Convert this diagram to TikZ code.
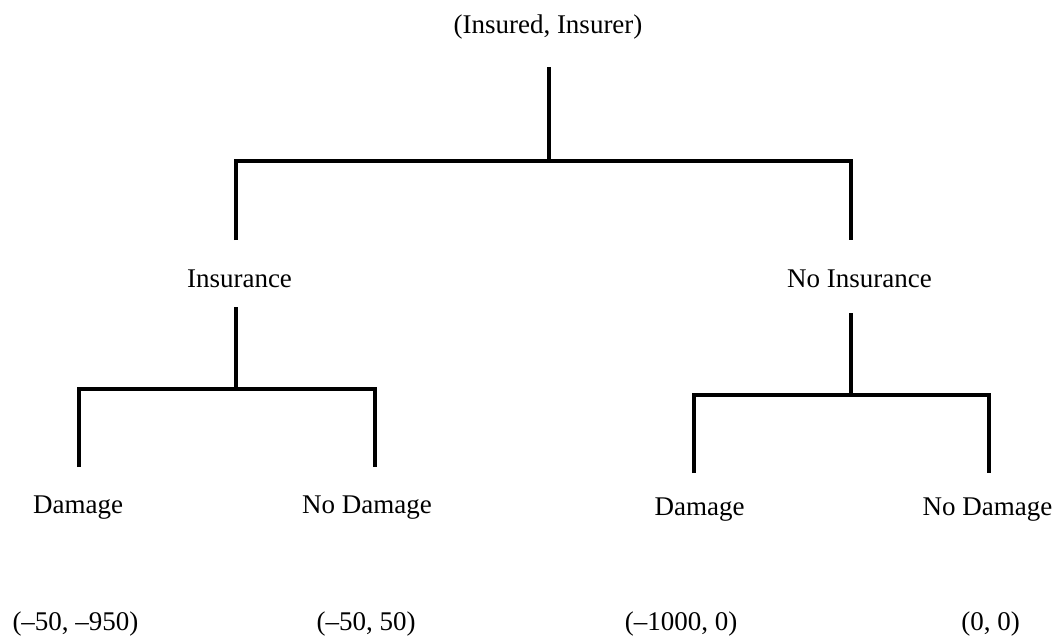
\documentclass[tikz,border=0pt]{standalone}
\usepackage{fontspec}
\setmainfont{Liberation Serif}
\usetikzlibrary{calc}
\begin{document}
\begin{tikzpicture}[x=1pt,y=-1pt,
  lbl/.style={anchor=base,inner sep=0pt,outer sep=0pt,text height=19pt,text depth=6pt,font=\fontsize{27}{32}\selectfont},
  branch/.style={line width=3.5pt,line join=miter,line cap=butt}]
\useasboundingbox (0,0) rectangle (1063,637);

% labels
\node[lbl] (root)  at (548,33)    {(Insured, Insurer)};
\node[lbl] (ins)   at (239.5,287) {Insurance};
\node[lbl] (noins) at (859.5,287) {No Insurance};
\node[lbl] (d1)    at (78,513)    {Damage};
\node[lbl] (nd1)   at (367,513)   {No Damage};
\node[lbl] (d2)    at (699.5,515) {Damage};
\node[lbl] (nd2)   at (987.5,515) {No Damage};
\node[lbl] (p1)    at (75.5,630)  {(--50, --950)};
\node[lbl] (p2)    at (366,630)   {(--50, 50)};
\node[lbl] (p3)    at (681,630)   {(--1000, 0)};
\node[lbl] (p4)    at (990.5,630) {(0, 0)};

% fork points
\coordinate (f0) at (549,161);
\coordinate (f1) at (236,389);
\coordinate (f2) at (851,395);

% first decision
\draw[branch] ($(root.south -| f0)+(0,28)$) -- (f0);
\draw[branch] ($(ins.north -| f1)+(0,-28)$) |- (f0) -| ($(noins.north -| f2)+(0,-28)$);

% second level
\draw[branch] ($(ins.south -| f1)+(0,14)$) -- (f1);
\draw[branch] ($(d1.north)+(1,-27)$) |- (f1) -| ($(nd1.north)+(8,-27)$);
\draw[branch] ($(noins.south -| f2)+(0,20)$) -- (f2);
\draw[branch] ($(d2.north)+(-5.5,-23)$) |- (f2) -| ($(nd2.north)+(1.5,-23)$);
\end{tikzpicture}
\end{document}
